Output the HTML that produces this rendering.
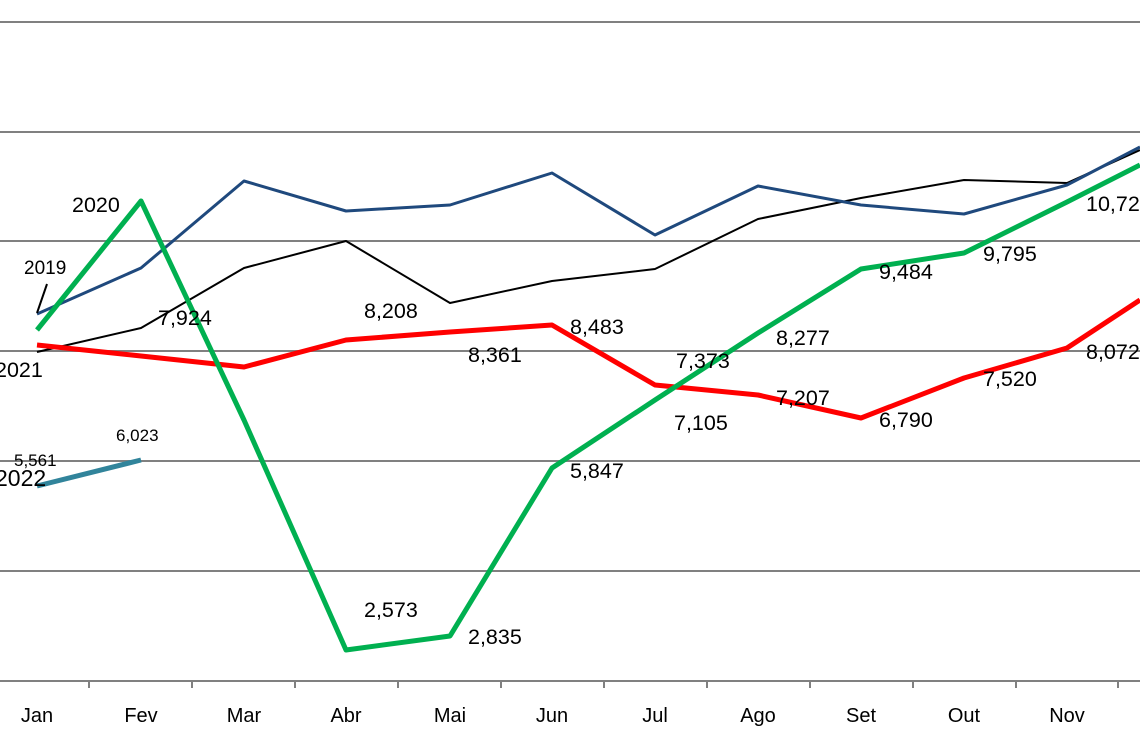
<!DOCTYPE html>
<html><head><style>body{margin:0;background:#fff}svg text{font-family:"Liberation Sans",sans-serif;fill:#000}</style></head>
<body><svg width="1140" height="742" xmlns="http://www.w3.org/2000/svg">
<g stroke="#808080" stroke-width="2">
<line x1="0" y1="22" x2="1140" y2="22"/><line x1="0" y1="132" x2="1140" y2="132"/><line x1="0" y1="241" x2="1140" y2="241"/><line x1="0" y1="351" x2="1140" y2="351"/><line x1="0" y1="461" x2="1140" y2="461"/><line x1="0" y1="571" x2="1140" y2="571"/><line x1="0" y1="681" x2="1140" y2="681"/>
<line x1="89" y1="681" x2="89" y2="688"/><line x1="192" y1="681" x2="192" y2="688"/><line x1="295" y1="681" x2="295" y2="688"/><line x1="398" y1="681" x2="398" y2="688"/><line x1="501" y1="681" x2="501" y2="688"/><line x1="604" y1="681" x2="604" y2="688"/><line x1="707" y1="681" x2="707" y2="688"/><line x1="810" y1="681" x2="810" y2="688"/><line x1="913" y1="681" x2="913" y2="688"/><line x1="1016" y1="681" x2="1016" y2="688"/><line x1="1118" y1="681" x2="1118" y2="688"/>
</g>
<g fill="none" stroke-linejoin="round">
<polyline stroke="#000" stroke-width="2" points="37,352 141,328 244,268 346,241 450,303 552,281 655,269 758,219 861,198 964,180 1067,183 1140,150"/>
<polyline stroke="#1f497d" stroke-width="3" points="37,314 141,268 244,181 346,211 450,205 552,173 655,235 758,186 861,205 964,214 1067,185 1140,147"/>
<polyline stroke="#ff0000" stroke-width="5" points="37,345 141,356 244,367 346,340 450,332 552,325 655,385 758,395 861,418 964,378 1067,348 1140,300"/>
<polyline stroke="#00b050" stroke-width="5" points="37,330 141,201 244,420 346,650 450,636 552,468 655,400 758,333 861,269 964,253 1067,202 1140,165"/>
<polyline stroke="#31849b" stroke-width="5" points="37,486 141,460"/>
<line x1="37" y1="313" x2="47" y2="284" stroke="#000" stroke-width="2"/>
</g>
<g font-size="21.5">
<text x="72" y="212">2020</text><text x="24" y="274" font-size="19">2019</text><text x="-5" y="377">2021</text><text x="-5" y="486" font-size="23">2022</text>
<text x="14" y="466" font-size="17">5,561</text><text x="116" y="441" font-size="17">6,023</text>
<text x="158" y="325">7,924</text><text x="364" y="318">8,208</text><text x="468" y="362">8,361</text><text x="570" y="334">8,483</text>
<text x="676" y="368">7,373</text><text x="674" y="430">7,105</text><text x="776" y="345">8,277</text><text x="776" y="405">7,207</text>
<text x="879" y="427">6,790</text><text x="879" y="279">9,484</text><text x="983" y="261">9,795</text><text x="983" y="386">7,520</text>
<text x="1086" y="211">10,72</text><text x="1086" y="359">8,072</text>
<text x="364" y="617">2,573</text><text x="468" y="644">2,835</text><text x="570" y="478">5,847</text>
</g>
<g font-size="20" text-anchor="middle">
<text x="37" y="722">Jan</text><text x="141" y="722">Fev</text><text x="244" y="722">Mar</text><text x="346" y="722">Abr</text><text x="450" y="722">Mai</text><text x="552" y="722">Jun</text><text x="655" y="722">Jul</text><text x="758" y="722">Ago</text><text x="861" y="722">Set</text><text x="964" y="722">Out</text><text x="1067" y="722">Nov</text>
</g>
</svg></body></html>
